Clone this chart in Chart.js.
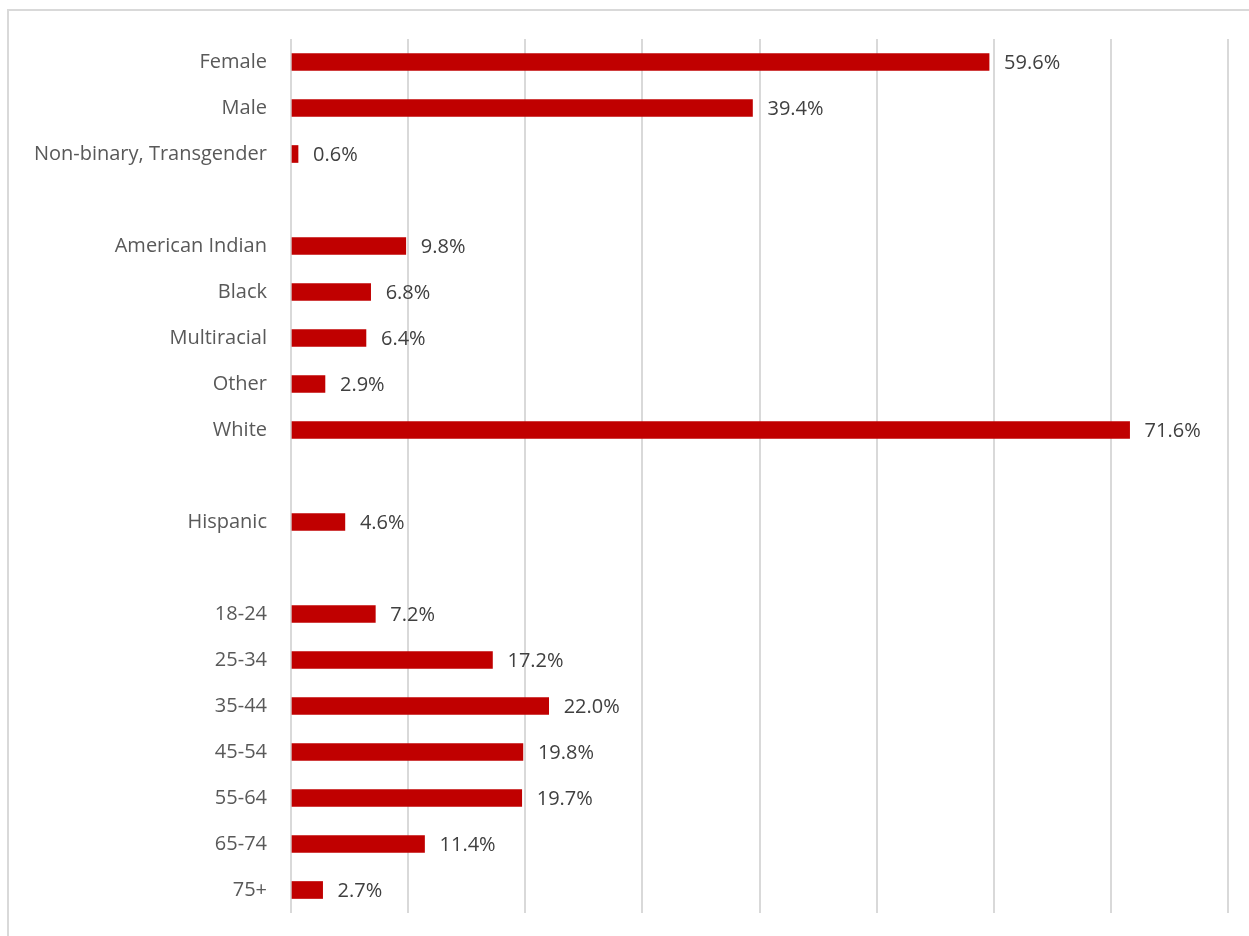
<!DOCTYPE html>
<html>
<head>
<meta charset="utf-8">
<script src="https://cdn.jsdelivr.net/npm/chart.js@4"></script>
<style>
  html, body { margin: 0; padding: 0; background: #fff; overflow: hidden; }
  #frame { position: absolute; left: 7px; top: 9px; width: 1400px; height: 1100px; border: 2px solid #d9d9d9; box-sizing: border-box; }
  #wrap { position: absolute; left: 0; top: 0; width: 1249px; height: 936px; }
</style>
</head>
<body>
<div id="frame"></div>
<div id="wrap"><canvas id="c" width="1249" height="936"></canvas></div>
<script>
const genderLabels = ["Female", "Male", "Non-binary, Transgender"];
const genderValues = [59.6, 39.4, 0.6];
const raceLabels = ["American Indian", "Black", "Multiracial", "Other", "White"];
const raceValues = [9.8, 6.8, 6.4, 2.9, 71.6];
const ethnicityLabels = ["Hispanic"];
const ethnicityValues = [4.6];
const ageLabels = ["18-24", "25-34", "35-44", "45-54", "55-64", "65-74", "75+"];
const ageValues = [7.2, 17.2, 22.0, 19.8, 19.7, 11.4, 2.7];
const xTicks = [0, 10, 20, 30, 40, 50, 60, 70, 80];

const labels = [...genderLabels, "", ...raceLabels, "", ...ethnicityLabels, "", ...ageLabels];
const values = [...genderValues, null, ...raceValues, null, ...ethnicityValues, null, ...ageValues];

const FONT = "'Open Sans', sans-serif";

const valueLabels = {
  id: 'valueLabels',
  afterDatasetsDraw(chart) {
    const ctx = chart.ctx;
    const meta = chart.getDatasetMeta(0);
    ctx.save();
    ctx.font = "20px " + FONT;
    ctx.fillStyle = "#404040";
    ctx.textAlign = "left";
    ctx.textBaseline = "middle";
    meta.data.forEach((bar, i) => {
      const v = values[i];
      if (v === null || v === undefined) return;
      ctx.fillText(v.toFixed(1) + "%", bar.x + 15, bar.y + 1);
    });
    ctx.restore();
  }
};

new Chart(document.getElementById('c'), {
  type: 'bar',
  data: {
    labels: labels,
    datasets: [{
      data: values,
      backgroundColor: '#C00000',
      barThickness: 17,
      borderWidth: 0
    }]
  },
  options: {
    indexAxis: 'y',
    responsive: false,
    animation: false,
    layout: { padding: { left: 0, top: 39, right: 21, bottom: 23 } },
    plugins: { legend: { display: false }, tooltip: { enabled: false } },
    scales: {
      x: {
        min: 0, max: 80,
        afterBuildTicks(scale) { scale.ticks = xTicks.map(v => ({ value: v })); },
        afterFit(scale) { scale.height = 0; scale.paddingLeft = 0; scale.paddingRight = 0; },
        ticks: { display: false },
        border: { display: false },
        grid: { color: '#d9d9d9', lineWidth: 2, drawTicks: false }
      },
      y: {
        afterFit(scale) { scale.width = 291; scale.paddingTop = 0; scale.paddingBottom = 0; },
        border: { display: false },
        grid: { display: false, drawTicks: false },
        ticks: { color: '#595959', font: { family: FONT, size: 20 }, padding: 24, autoSkip: false }
      }
    }
  },
  plugins: [valueLabels]
});
</script>
</body>
</html>
